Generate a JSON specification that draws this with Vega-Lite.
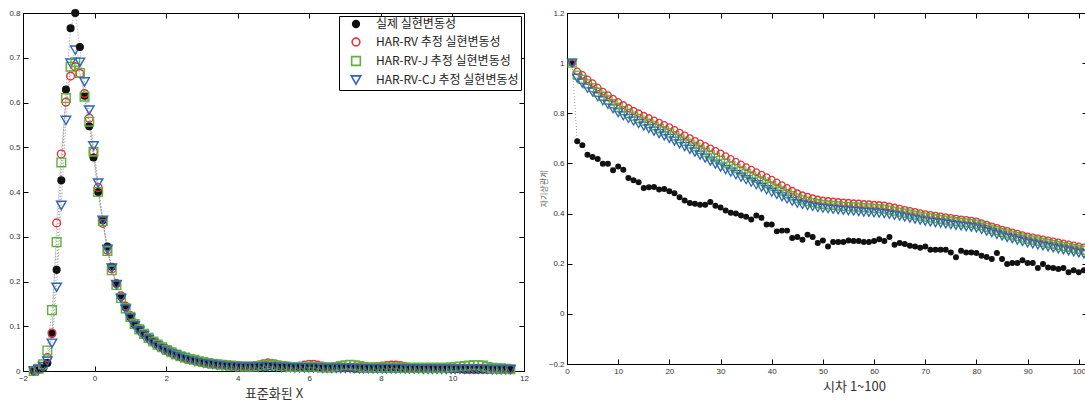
{
  "$schema": "https://vega.github.io/schema/vega-lite/v6.json",
  "background": "white",
  "padding": {"left": 8, "top": 6, "right": 0, "bottom": 0},
  "spacing": 10,
  "config": {
    "font": "Liberation Sans",
    "view": {"stroke": "#000", "strokeWidth": 1},
    "axis": {"grid": false, "domain": false, "tickColor": "#000", "tickSize": -5, "tickWidth": 1, "labelFontSize": 8, "labelColor": "#333", "labelPadding": 8, "labelFlush": false, "labelOverlap": false, "format": "~r", "titleFontWeight": "normal"}
  },
  "datasets": {
    "dens": [
      {"x": -1.70, "a": 0.000, "b": 0.000, "c": 0.000, "d": 0.000},
      {"x": -1.57, "a": 0.002, "b": 0.003, "c": 0.005, "d": 0.003},
      {"x": -1.44, "a": 0.006, "b": 0.010, "c": 0.015, "d": 0.010},
      {"x": -1.32, "a": 0.018, "b": 0.030, "c": 0.046, "d": 0.022},
      {"x": -1.19, "a": 0.083, "b": 0.085, "c": 0.136, "d": 0.062},
      {"x": -1.06, "a": 0.226, "b": 0.331, "c": 0.288, "d": 0.187},
      {"x": -0.93, "a": 0.426, "b": 0.485, "c": 0.466, "d": 0.370},
      {"x": -0.80, "a": 0.629, "b": 0.601, "c": 0.610, "d": 0.560},
      {"x": -0.67, "a": 0.766, "b": 0.659, "c": 0.680, "d": 0.688},
      {"x": -0.54, "a": 0.800, "b": 0.680, "c": 0.690, "d": 0.717},
      {"x": -0.41, "a": 0.724, "b": 0.665, "c": 0.666, "d": 0.690},
      {"x": -0.28, "a": 0.615, "b": 0.620, "c": 0.613, "d": 0.646},
      {"x": -0.15, "a": 0.547, "b": 0.565, "c": 0.557, "d": 0.583},
      {"x": -0.03, "a": 0.477, "b": 0.490, "c": 0.490, "d": 0.503},
      {"x": 0.10, "a": 0.400, "b": 0.410, "c": 0.400, "d": 0.420},
      {"x": 0.23, "a": 0.337, "b": 0.330, "c": 0.335, "d": 0.337},
      {"x": 0.36, "a": 0.278, "b": 0.270, "c": 0.268, "d": 0.272},
      {"x": 0.48, "a": 0.233, "b": 0.228, "c": 0.225, "d": 0.230},
      {"x": 0.61, "a": 0.196, "b": 0.195, "c": 0.192, "d": 0.193},
      {"x": 0.74, "a": 0.166, "b": 0.168, "c": 0.163, "d": 0.162},
      {"x": 0.87, "a": 0.142, "b": 0.145, "c": 0.140, "d": 0.138},
      {"x": 1.00, "a": 0.120, "b": 0.124, "c": 0.121, "d": 0.118},
      {"x": 1.12, "a": 0.104, "b": 0.107, "c": 0.105, "d": 0.101},
      {"x": 1.25, "a": 0.092, "b": 0.094, "c": 0.093, "d": 0.089},
      {"x": 1.38, "a": 0.082, "b": 0.083, "c": 0.083, "d": 0.079},
      {"x": 1.51, "a": 0.073, "b": 0.074, "c": 0.074, "d": 0.070},
      {"x": 1.64, "a": 0.065, "b": 0.066, "c": 0.066, "d": 0.062},
      {"x": 1.76, "a": 0.058, "b": 0.059, "c": 0.059, "d": 0.055},
      {"x": 1.89, "a": 0.052, "b": 0.053, "c": 0.053, "d": 0.049},
      {"x": 2.02, "a": 0.046, "b": 0.047, "c": 0.047, "d": 0.044},
      {"x": 2.15, "a": 0.041, "b": 0.042, "c": 0.042, "d": 0.039},
      {"x": 2.28, "a": 0.036, "b": 0.037, "c": 0.037, "d": 0.035},
      {"x": 2.40, "a": 0.032, "b": 0.033, "c": 0.033, "d": 0.031},
      {"x": 2.53, "a": 0.028, "b": 0.030, "c": 0.030, "d": 0.028},
      {"x": 2.66, "a": 0.025, "b": 0.027, "c": 0.027, "d": 0.025},
      {"x": 2.79, "a": 0.023, "b": 0.024, "c": 0.025, "d": 0.022},
      {"x": 2.92, "a": 0.021, "b": 0.022, "c": 0.022, "d": 0.020},
      {"x": 3.04, "a": 0.019, "b": 0.020, "c": 0.020, "d": 0.018},
      {"x": 3.17, "a": 0.017, "b": 0.018, "c": 0.018, "d": 0.016},
      {"x": 3.30, "a": 0.016, "b": 0.017, "c": 0.016, "d": 0.015},
      {"x": 3.43, "a": 0.014, "b": 0.015, "c": 0.015, "d": 0.013},
      {"x": 3.56, "a": 0.013, "b": 0.014, "c": 0.014, "d": 0.012},
      {"x": 3.68, "a": 0.012, "b": 0.013, "c": 0.013, "d": 0.011},
      {"x": 3.81, "a": 0.011, "b": 0.012, "c": 0.012, "d": 0.010},
      {"x": 3.94, "a": 0.010, "b": 0.011, "c": 0.011, "d": 0.010},
      {"x": 4.07, "a": 0.010, "b": 0.011, "c": 0.010, "d": 0.009},
      {"x": 4.20, "a": 0.009, "b": 0.010, "c": 0.010, "d": 0.009},
      {"x": 4.33, "a": 0.009, "b": 0.010, "c": 0.010, "d": 0.009},
      {"x": 4.45, "a": 0.009, "b": 0.011, "c": 0.010, "d": 0.009},
      {"x": 4.58, "a": 0.009, "b": 0.013, "c": 0.011, "d": 0.009},
      {"x": 4.71, "a": 0.009, "b": 0.016, "c": 0.012, "d": 0.009},
      {"x": 4.84, "a": 0.010, "b": 0.018, "c": 0.014, "d": 0.010},
      {"x": 4.96, "a": 0.010, "b": 0.017, "c": 0.015, "d": 0.010},
      {"x": 5.09, "a": 0.009, "b": 0.014, "c": 0.013, "d": 0.009},
      {"x": 5.22, "a": 0.009, "b": 0.012, "c": 0.011, "d": 0.008},
      {"x": 5.35, "a": 0.008, "b": 0.011, "c": 0.010, "d": 0.008},
      {"x": 5.48, "a": 0.008, "b": 0.010, "c": 0.009, "d": 0.008},
      {"x": 5.60, "a": 0.008, "b": 0.010, "c": 0.009, "d": 0.007},
      {"x": 5.73, "a": 0.007, "b": 0.011, "c": 0.009, "d": 0.007},
      {"x": 5.86, "a": 0.007, "b": 0.013, "c": 0.009, "d": 0.007},
      {"x": 5.99, "a": 0.007, "b": 0.015, "c": 0.010, "d": 0.007},
      {"x": 6.12, "a": 0.007, "b": 0.015, "c": 0.010, "d": 0.007},
      {"x": 6.24, "a": 0.007, "b": 0.013, "c": 0.009, "d": 0.007},
      {"x": 6.37, "a": 0.006, "b": 0.011, "c": 0.008, "d": 0.006},
      {"x": 6.50, "a": 0.006, "b": 0.009, "c": 0.008, "d": 0.006},
      {"x": 6.63, "a": 0.006, "b": 0.008, "c": 0.008, "d": 0.006},
      {"x": 6.76, "a": 0.006, "b": 0.008, "c": 0.009, "d": 0.006},
      {"x": 6.88, "a": 0.006, "b": 0.008, "c": 0.011, "d": 0.006},
      {"x": 7.01, "a": 0.006, "b": 0.008, "c": 0.013, "d": 0.006},
      {"x": 7.14, "a": 0.006, "b": 0.008, "c": 0.014, "d": 0.006},
      {"x": 7.27, "a": 0.005, "b": 0.008, "c": 0.013, "d": 0.006},
      {"x": 7.40, "a": 0.005, "b": 0.008, "c": 0.011, "d": 0.005},
      {"x": 7.52, "a": 0.005, "b": 0.009, "c": 0.009, "d": 0.005},
      {"x": 7.65, "a": 0.005, "b": 0.009, "c": 0.008, "d": 0.005},
      {"x": 7.78, "a": 0.005, "b": 0.009, "c": 0.008, "d": 0.005},
      {"x": 7.91, "a": 0.005, "b": 0.010, "c": 0.008, "d": 0.005},
      {"x": 8.04, "a": 0.005, "b": 0.011, "c": 0.008, "d": 0.005},
      {"x": 8.16, "a": 0.005, "b": 0.012, "c": 0.008, "d": 0.005},
      {"x": 8.29, "a": 0.005, "b": 0.013, "c": 0.008, "d": 0.005},
      {"x": 8.42, "a": 0.005, "b": 0.013, "c": 0.008, "d": 0.005},
      {"x": 8.55, "a": 0.005, "b": 0.012, "c": 0.008, "d": 0.005},
      {"x": 8.68, "a": 0.004, "b": 0.010, "c": 0.007, "d": 0.005},
      {"x": 8.80, "a": 0.004, "b": 0.008, "c": 0.007, "d": 0.005},
      {"x": 8.93, "a": 0.004, "b": 0.007, "c": 0.007, "d": 0.005},
      {"x": 9.06, "a": 0.004, "b": 0.007, "c": 0.007, "d": 0.005},
      {"x": 9.19, "a": 0.004, "b": 0.007, "c": 0.007, "d": 0.004},
      {"x": 9.32, "a": 0.004, "b": 0.007, "c": 0.007, "d": 0.004},
      {"x": 9.44, "a": 0.004, "b": 0.007, "c": 0.007, "d": 0.004},
      {"x": 9.57, "a": 0.004, "b": 0.006, "c": 0.007, "d": 0.004},
      {"x": 9.70, "a": 0.004, "b": 0.006, "c": 0.007, "d": 0.004},
      {"x": 9.83, "a": 0.004, "b": 0.006, "c": 0.007, "d": 0.004},
      {"x": 9.96, "a": 0.004, "b": 0.006, "c": 0.008, "d": 0.004},
      {"x": 10.08, "a": 0.004, "b": 0.006, "c": 0.009, "d": 0.004},
      {"x": 10.21, "a": 0.004, "b": 0.006, "c": 0.010, "d": 0.004},
      {"x": 10.34, "a": 0.003, "b": 0.006, "c": 0.011, "d": 0.004},
      {"x": 10.47, "a": 0.003, "b": 0.006, "c": 0.012, "d": 0.004},
      {"x": 10.60, "a": 0.003, "b": 0.006, "c": 0.013, "d": 0.004},
      {"x": 10.72, "a": 0.003, "b": 0.006, "c": 0.013, "d": 0.004},
      {"x": 10.85, "a": 0.003, "b": 0.006, "c": 0.012, "d": 0.004},
      {"x": 10.98, "a": 0.003, "b": 0.005, "c": 0.009, "d": 0.004},
      {"x": 11.11, "a": 0.003, "b": 0.005, "c": 0.007, "d": 0.003},
      {"x": 11.24, "a": 0.003, "b": 0.005, "c": 0.006, "d": 0.003},
      {"x": 11.36, "a": 0.003, "b": 0.005, "c": 0.006, "d": 0.003},
      {"x": 11.49, "a": 0.003, "b": 0.005, "c": 0.005, "d": 0.003},
      {"x": 11.62, "a": 0.003, "b": 0.004, "c": 0.004, "d": 0.003}
    ],
    "acf": [
      {"lag": 1, "a": 1.000, "b": 1.000, "c": 1.000, "d": 1.000},
      {"lag": 2, "a": 0.688, "b": 0.967, "c": 0.952, "d": 0.940},
      {"lag": 3, "a": 0.673, "b": 0.953, "c": 0.935, "d": 0.920},
      {"lag": 4, "a": 0.635, "b": 0.935, "c": 0.917, "d": 0.900},
      {"lag": 5, "a": 0.626, "b": 0.920, "c": 0.902, "d": 0.885},
      {"lag": 6, "a": 0.618, "b": 0.902, "c": 0.884, "d": 0.866},
      {"lag": 7, "a": 0.599, "b": 0.886, "c": 0.868, "d": 0.850},
      {"lag": 8, "a": 0.599, "b": 0.872, "c": 0.853, "d": 0.835},
      {"lag": 9, "a": 0.573, "b": 0.858, "c": 0.838, "d": 0.818},
      {"lag": 10, "a": 0.588, "b": 0.845, "c": 0.823, "d": 0.802},
      {"lag": 11, "a": 0.575, "b": 0.833, "c": 0.811, "d": 0.790},
      {"lag": 12, "a": 0.542, "b": 0.821, "c": 0.800, "d": 0.779},
      {"lag": 13, "a": 0.533, "b": 0.810, "c": 0.789, "d": 0.769},
      {"lag": 14, "a": 0.525, "b": 0.800, "c": 0.779, "d": 0.759},
      {"lag": 15, "a": 0.502, "b": 0.790, "c": 0.769, "d": 0.749},
      {"lag": 16, "a": 0.505, "b": 0.781, "c": 0.759, "d": 0.739},
      {"lag": 17, "a": 0.506, "b": 0.772, "c": 0.750, "d": 0.729},
      {"lag": 18, "a": 0.496, "b": 0.763, "c": 0.740, "d": 0.719},
      {"lag": 19, "a": 0.498, "b": 0.754, "c": 0.731, "d": 0.710},
      {"lag": 20, "a": 0.489, "b": 0.745, "c": 0.722, "d": 0.700},
      {"lag": 21, "a": 0.481, "b": 0.734, "c": 0.711, "d": 0.689},
      {"lag": 22, "a": 0.465, "b": 0.723, "c": 0.700, "d": 0.678},
      {"lag": 23, "a": 0.452, "b": 0.712, "c": 0.689, "d": 0.667},
      {"lag": 24, "a": 0.442, "b": 0.701, "c": 0.678, "d": 0.656},
      {"lag": 25, "a": 0.439, "b": 0.690, "c": 0.667, "d": 0.645},
      {"lag": 26, "a": 0.435, "b": 0.680, "c": 0.656, "d": 0.633},
      {"lag": 27, "a": 0.435, "b": 0.670, "c": 0.645, "d": 0.621},
      {"lag": 28, "a": 0.446, "b": 0.660, "c": 0.634, "d": 0.609},
      {"lag": 29, "a": 0.431, "b": 0.650, "c": 0.623, "d": 0.597},
      {"lag": 30, "a": 0.424, "b": 0.640, "c": 0.612, "d": 0.585},
      {"lag": 31, "a": 0.412, "b": 0.629, "c": 0.601, "d": 0.575},
      {"lag": 32, "a": 0.403, "b": 0.618, "c": 0.590, "d": 0.565},
      {"lag": 33, "a": 0.400, "b": 0.607, "c": 0.580, "d": 0.555},
      {"lag": 34, "a": 0.392, "b": 0.596, "c": 0.570, "d": 0.545},
      {"lag": 35, "a": 0.387, "b": 0.585, "c": 0.560, "d": 0.535},
      {"lag": 36, "a": 0.376, "b": 0.575, "c": 0.550, "d": 0.525},
      {"lag": 37, "a": 0.392, "b": 0.565, "c": 0.540, "d": 0.515},
      {"lag": 38, "a": 0.383, "b": 0.555, "c": 0.530, "d": 0.505},
      {"lag": 39, "a": 0.356, "b": 0.545, "c": 0.520, "d": 0.495},
      {"lag": 40, "a": 0.356, "b": 0.535, "c": 0.510, "d": 0.485},
      {"lag": 41, "a": 0.329, "b": 0.524, "c": 0.500, "d": 0.476},
      {"lag": 42, "a": 0.332, "b": 0.513, "c": 0.490, "d": 0.467},
      {"lag": 43, "a": 0.332, "b": 0.502, "c": 0.480, "d": 0.458},
      {"lag": 44, "a": 0.303, "b": 0.491, "c": 0.471, "d": 0.449},
      {"lag": 45, "a": 0.307, "b": 0.481, "c": 0.462, "d": 0.441},
      {"lag": 46, "a": 0.296, "b": 0.473, "c": 0.455, "d": 0.436},
      {"lag": 47, "a": 0.316, "b": 0.467, "c": 0.449, "d": 0.432},
      {"lag": 48, "a": 0.307, "b": 0.461, "c": 0.444, "d": 0.428},
      {"lag": 49, "a": 0.283, "b": 0.456, "c": 0.440, "d": 0.424},
      {"lag": 50, "a": 0.293, "b": 0.452, "c": 0.437, "d": 0.421},
      {"lag": 51, "a": 0.269, "b": 0.450, "c": 0.435, "d": 0.419},
      {"lag": 52, "a": 0.287, "b": 0.448, "c": 0.433, "d": 0.417},
      {"lag": 53, "a": 0.287, "b": 0.446, "c": 0.431, "d": 0.415},
      {"lag": 54, "a": 0.287, "b": 0.444, "c": 0.429, "d": 0.413},
      {"lag": 55, "a": 0.293, "b": 0.443, "c": 0.428, "d": 0.411},
      {"lag": 56, "a": 0.291, "b": 0.441, "c": 0.427, "d": 0.410},
      {"lag": 57, "a": 0.291, "b": 0.440, "c": 0.426, "d": 0.408},
      {"lag": 58, "a": 0.287, "b": 0.438, "c": 0.424, "d": 0.406},
      {"lag": 59, "a": 0.287, "b": 0.437, "c": 0.423, "d": 0.405},
      {"lag": 60, "a": 0.291, "b": 0.435, "c": 0.421, "d": 0.403},
      {"lag": 61, "a": 0.298, "b": 0.434, "c": 0.420, "d": 0.402},
      {"lag": 62, "a": 0.291, "b": 0.432, "c": 0.418, "d": 0.400},
      {"lag": 63, "a": 0.307, "b": 0.428, "c": 0.414, "d": 0.397},
      {"lag": 64, "a": 0.276, "b": 0.424, "c": 0.410, "d": 0.393},
      {"lag": 65, "a": 0.283, "b": 0.420, "c": 0.406, "d": 0.390},
      {"lag": 66, "a": 0.279, "b": 0.415, "c": 0.402, "d": 0.386},
      {"lag": 67, "a": 0.272, "b": 0.411, "c": 0.398, "d": 0.382},
      {"lag": 68, "a": 0.269, "b": 0.407, "c": 0.394, "d": 0.378},
      {"lag": 69, "a": 0.264, "b": 0.402, "c": 0.390, "d": 0.374},
      {"lag": 70, "a": 0.269, "b": 0.398, "c": 0.386, "d": 0.370},
      {"lag": 71, "a": 0.256, "b": 0.395, "c": 0.383, "d": 0.367},
      {"lag": 72, "a": 0.256, "b": 0.392, "c": 0.380, "d": 0.364},
      {"lag": 73, "a": 0.256, "b": 0.389, "c": 0.377, "d": 0.362},
      {"lag": 74, "a": 0.256, "b": 0.386, "c": 0.374, "d": 0.359},
      {"lag": 75, "a": 0.245, "b": 0.383, "c": 0.371, "d": 0.356},
      {"lag": 76, "a": 0.226, "b": 0.380, "c": 0.368, "d": 0.353},
      {"lag": 77, "a": 0.252, "b": 0.377, "c": 0.366, "d": 0.351},
      {"lag": 78, "a": 0.245, "b": 0.375, "c": 0.363, "d": 0.348},
      {"lag": 79, "a": 0.245, "b": 0.372, "c": 0.361, "d": 0.346},
      {"lag": 80, "a": 0.243, "b": 0.369, "c": 0.358, "d": 0.343},
      {"lag": 81, "a": 0.232, "b": 0.362, "c": 0.351, "d": 0.337},
      {"lag": 82, "a": 0.227, "b": 0.356, "c": 0.345, "d": 0.330},
      {"lag": 83, "a": 0.219, "b": 0.349, "c": 0.338, "d": 0.324},
      {"lag": 84, "a": 0.243, "b": 0.343, "c": 0.332, "d": 0.317},
      {"lag": 85, "a": 0.219, "b": 0.336, "c": 0.325, "d": 0.311},
      {"lag": 86, "a": 0.199, "b": 0.331, "c": 0.319, "d": 0.305},
      {"lag": 87, "a": 0.203, "b": 0.325, "c": 0.314, "d": 0.300},
      {"lag": 88, "a": 0.203, "b": 0.320, "c": 0.309, "d": 0.294},
      {"lag": 89, "a": 0.214, "b": 0.314, "c": 0.303, "d": 0.289},
      {"lag": 90, "a": 0.203, "b": 0.309, "c": 0.298, "d": 0.283},
      {"lag": 91, "a": 0.203, "b": 0.305, "c": 0.294, "d": 0.279},
      {"lag": 92, "a": 0.183, "b": 0.301, "c": 0.290, "d": 0.275},
      {"lag": 93, "a": 0.199, "b": 0.297, "c": 0.285, "d": 0.271},
      {"lag": 94, "a": 0.185, "b": 0.293, "c": 0.281, "d": 0.267},
      {"lag": 95, "a": 0.183, "b": 0.289, "c": 0.277, "d": 0.263},
      {"lag": 96, "a": 0.179, "b": 0.285, "c": 0.273, "d": 0.259},
      {"lag": 97, "a": 0.183, "b": 0.281, "c": 0.269, "d": 0.255},
      {"lag": 98, "a": 0.166, "b": 0.277, "c": 0.265, "d": 0.251},
      {"lag": 99, "a": 0.174, "b": 0.273, "c": 0.261, "d": 0.247},
      {"lag": 100, "a": 0.166, "b": 0.269, "c": 0.257, "d": 0.243},
      {"lag": 101, "a": 0.174, "b": 0.265, "c": 0.253, "d": 0.239}
    ]
  },
  "resolve": {
    "scale": {"color": "independent", "shape": "independent", "fill": "independent", "size": "independent"},
    "legend": {"color": "independent", "shape": "independent", "fill": "independent", "size": "independent"}
  },
  "hconcat": [
    {
      "width": 501,
      "height": 358,
      "data": {"name": "dens"},
      "transform": [{"fold": ["a", "b", "c", "d"], "as": ["s", "v"]}],
      "resolve": {"axis": {"x": "independent", "y": "independent"}},
      "layer": [
        {
          "mark": {"type": "line", "color": "#9a9a9a", "strokeWidth": 1, "strokeDash": [1, 2]},
          "encoding": {
            "x": {"field": "x", "type": "quantitative", "scale": {"domain": [-2, 12], "nice": false},
              "axis": {"orient": "bottom", "values": [-2, 0, 2, 4, 6, 8, 10, 12], "title": "표준화된 X", "titleFont": "Noto Sans CJK KR", "titleFontSize": 13, "titleColor": "#333", "titlePadding": 5}},
            "y": {"field": "v", "type": "quantitative", "scale": {"domain": [0, 0.8], "nice": false},
              "axis": {"orient": "left", "values": [0, 0.1, 0.2, 0.3, 0.4, 0.5, 0.6, 0.7, 0.8], "title": null}},
            "detail": {"field": "s"}
          }
        },
        {
          "mark": {"type": "point", "filled": false, "strokeWidth": 1.4, "opacity": 1},
          "encoding": {
            "x": {"field": "x", "type": "quantitative", "axis": null},
            "y": {"field": "v", "type": "quantitative", "axis": null},
            "color": {"field": "s", "type": "nominal", "scale": {"domain": ["a", "b", "c", "d"], "range": ["#111111", "#e8323c", "#5db33a", "#2e63b8"]},
              "legend": {"title": null, "orient": "top-right", "offset": 3, "strokeColor": "#000", "fillColor": "white", "padding": 2, "labelFont": "Noto Sans CJK KR", "labelFontSize": 12, "labelColor": "#222", "rowPadding": 3, "symbolStrokeWidth": 1.6, "symbolOffset": 9, "labelOffset": 14, "labelExpr": "datum.label == 'a' ? '실제 실현변동성' : datum.label == 'b' ? 'HAR-RV 추정 실현변동성' : datum.label == 'c' ? 'HAR-RV-J 추정 실현변동성' : 'HAR-RV-CJ 추정 실현변동성'"}},
            "shape": {"field": "s", "type": "nominal", "scale": {"domain": ["a", "b", "c", "d"], "range": ["circle", "circle", "square", "triangle-down"]}},
            "fill": {"field": "s", "type": "nominal", "scale": {"domain": ["a", "b", "c", "d"], "range": ["#111111", "transparent", "transparent", "transparent"]}},
            "size": {"field": "s", "type": "nominal", "scale": {"domain": ["a", "b", "c", "d"], "range": [45, 90, 64, 110]}}
          }
        },
        {
          "mark": {"type": "point", "opacity": 0},
          "encoding": {
            "x": {"field": "x", "type": "quantitative", "axis": {"orient": "top", "values": [-2, 0, 2, 4, 6, 8, 10, 12], "labels": false, "title": null}},
            "y": {"field": "v", "type": "quantitative", "axis": {"orient": "right", "values": [0, 0.1, 0.2, 0.3, 0.4, 0.5, 0.6, 0.7, 0.8], "labels": false, "title": null}}
          }
        }
      ]
    },
    {
      "width": 520,
      "height": 351,
      "data": {"name": "acf"},
      "transform": [{"fold": ["a", "b", "c", "d"], "as": ["s", "v"]}],
      "resolve": {"axis": {"x": "independent", "y": "independent"}},
      "layer": [
        {
          "mark": {"type": "line", "color": "#9a9a9a", "strokeWidth": 1, "strokeDash": [1, 2]},
          "encoding": {
            "x": {"field": "lag", "type": "quantitative", "scale": {"domain": [0, 101.6], "nice": false},
              "axis": {"orient": "bottom", "values": [0, 10, 20, 30, 40, 50, 60, 70, 80, 90, 100], "title": "시차 1~100", "titleFont": "Noto Sans CJK KR", "titleFontSize": 13, "titleColor": "#333", "titlePadding": 5, "titleX": 287}},
            "y": {"field": "v", "type": "quantitative", "scale": {"domain": [-0.2, 1.2], "nice": false},
              "axis": {"orient": "left", "values": [-0.2, 0, 0.2, 0.4, 0.6, 0.8, 1, 1.2], "title": "자기상관계", "titleFont": "Noto Sans CJK KR", "titleFontSize": 8, "titleColor": "#666", "titlePadding": 0}},
            "detail": {"field": "s"}
          }
        },
        {
          "mark": {"type": "point", "filled": false, "strokeWidth": 1.3, "opacity": 1},
          "encoding": {
            "x": {"field": "lag", "type": "quantitative", "axis": null},
            "y": {"field": "v", "type": "quantitative", "axis": null},
            "color": {"field": "s", "type": "nominal", "legend": null, "scale": {"domain": ["a", "b", "c", "d"], "range": ["#111111", "#e8323c", "#5db33a", "#2e63b8"]}},
            "shape": {"field": "s", "type": "nominal", "legend": null, "scale": {"domain": ["a", "b", "c", "d"], "range": ["circle", "circle", "square", "triangle-down"]}},
            "fill": {"field": "s", "type": "nominal", "legend": null, "scale": {"domain": ["a", "b", "c", "d"], "range": ["#111111", "transparent", "transparent", "transparent"]}},
            "size": {"field": "s", "type": "nominal", "legend": null, "scale": {"domain": ["a", "b", "c", "d"], "range": [22, 85, 64, 95]}}
          }
        },
        {
          "mark": {"type": "point", "opacity": 0},
          "encoding": {
            "x": {"field": "lag", "type": "quantitative", "axis": {"orient": "top", "values": [0, 10, 20, 30, 40, 50, 60, 70, 80, 90, 100], "labels": true, "labelFontSize": 4, "labelPadding": 5, "labelColor": "transparent", "title": null}},
            "y": {"field": "v", "type": "quantitative", "axis": {"orient": "right", "values": [-0.2, 0, 0.2, 0.4, 0.6, 0.8, 1, 1.2], "labels": false, "title": null}}
          }
        }
      ]
    }
  ]
}
